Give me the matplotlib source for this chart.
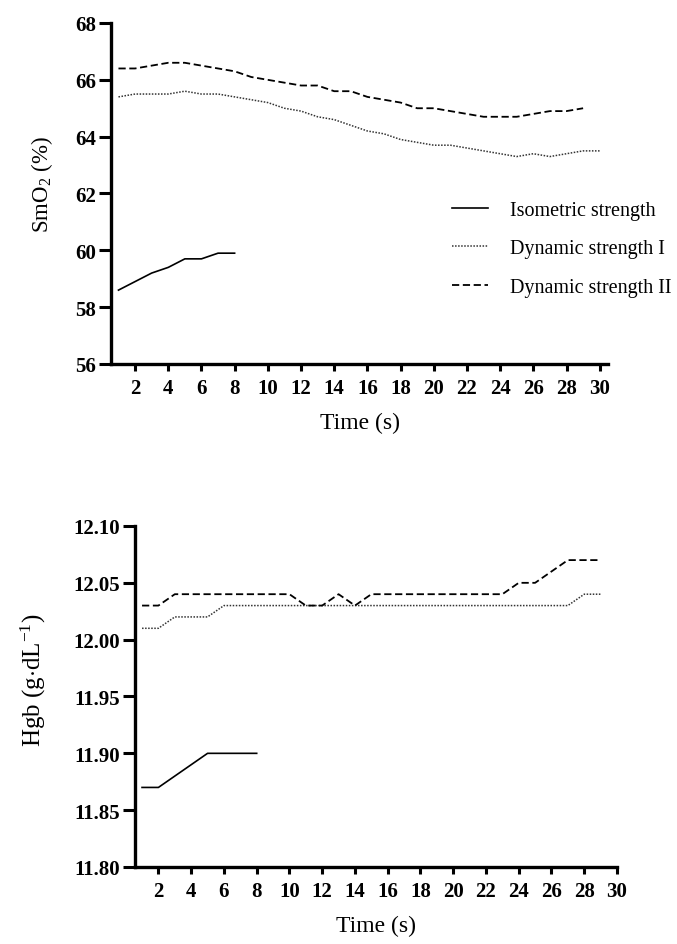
import matplotlib
matplotlib.use('Agg')
import matplotlib.pyplot as plt
import numpy as np

# DATA

time_iso = list(range(1, 9))
time_dyn1 = list(range(1, 31))
time_dyn2 = list(range(1, 30))

smo2_iso = [58.6, 58.9, 59.2, 59.4, 59.7, 59.7, 59.9, 59.9]
smo2_dyn1 = [65.4, 65.5, 65.5, 65.5, 65.6, 65.5, 65.5, 65.4, 65.3, 65.2,
             65.0, 64.9, 64.7, 64.6, 64.4, 64.2, 64.1, 63.9, 63.8, 63.7,
             63.7, 63.6, 63.5, 63.4, 63.3, 63.4, 63.3, 63.4, 63.5, 63.5]
smo2_dyn2 = [66.4, 66.4, 66.5, 66.6, 66.6, 66.5, 66.4, 66.3, 66.1, 66.0,
             65.9, 65.8, 65.8, 65.6, 65.6, 65.4, 65.3, 65.2, 65.0, 65.0,
             64.9, 64.8, 64.7, 64.7, 64.7, 64.8, 64.9, 64.9, 65.0]

time_hgb_iso = list(range(1, 9))
time_hgb_dyn = list(range(1, 30))

hgb_iso = [11.87, 11.87, 11.88, 11.89, 11.90, 11.90, 11.90, 11.90]
hgb_dyn1 = [12.01, 12.01, 12.02, 12.02, 12.02, 12.03, 12.03, 12.03, 12.03, 12.03,
            12.03, 12.03, 12.03, 12.03, 12.03, 12.03, 12.03, 12.03, 12.03, 12.03,
            12.03, 12.03, 12.03, 12.03, 12.03, 12.03, 12.03, 12.04, 12.04]
hgb_dyn2 = [12.03, 12.03, 12.04, 12.04, 12.04, 12.04, 12.04, 12.04, 12.04, 12.04,
            12.03, 12.03, 12.04, 12.03, 12.04, 12.04, 12.04, 12.04, 12.04, 12.04,
            12.04, 12.04, 12.04, 12.05, 12.05, 12.06, 12.07, 12.07, 12.07]

labels = ['Isometric strength', 'Dynamic strength I', 'Dynamic strength II']
x_ticks = list(range(2, 31, 2))

# STYLE

plt.rcParams['font.family'] = ['Liberation Serif', 'DejaVu Serif']
plt.rcParams['mathtext.fontset'] = 'custom'
plt.rcParams['mathtext.rm'] = 'Liberation Serif'
plt.rcParams['mathtext.it'] = 'Liberation Serif:italic'

fig = plt.figure(figsize=(6.77, 9.45), dpi=100)

W, H = 677, 945


def style_axes(ax):
    for side in ['top', 'right']:
        ax.spines[side].set_visible(False)
    for side in ['left', 'bottom']:
        ax.spines[side].set_linewidth(2.4)
    ax.tick_params(axis='y', direction='out', length=8.5, width=2.2,
                   labelsize=15, pad=2)
    ax.tick_params(axis='x', direction='out', length=5, width=2.2,
                   labelsize=15, pad=5)
    for lab in ax.get_xticklabels() + ax.get_yticklabels():
        lab.set_fontweight('bold')


def plot_lines(ax, t1, y1, t2, y2, t3, y3):
    ax.plot(t1, y1, color='black', lw=1.2, linestyle='-', label=labels[0])
    ax.plot(t2, y2, color='#333333', lw=1.1, linestyle=(0, (1, 1)), label=labels[1])
    ax.plot(t3, y3, color='black', lw=1.3, linestyle=(0, (4, 2)), label=labels[2])


# TOP CHART: SmO2

ax1 = fig.add_axes([111 / W, 1 - 365 / H, (608 - 111) / W, (365 - 24) / H])
plot_lines(ax1, time_iso, smo2_iso, time_dyn1, smo2_dyn1, time_dyn2, smo2_dyn2)
ax1.set_xlim(0.55, 30.5)
ax1.set_ylim(56, 68)
ax1.set_xticks(x_ticks)
ax1.set_yticks(np.arange(56, 69, 2))
ax1.set_xlabel('Time (s)', fontsize=17, labelpad=10)
ax1.set_ylabel('SmO$_2$ (%)', fontsize=16.5)
ax1.yaxis.set_label_coords(-0.113, 0.53)
style_axes(ax1)

ax1.legend(loc='upper left', bbox_to_anchor=(452 / W, 1 - 202 / H),
           bbox_transform=fig.transFigure, frameon=False, fontsize=14.5,
           handlelength=1.8, handletextpad=1.1, labelspacing=0.95,
           borderpad=0, borderaxespad=0)

# BOTTOM CHART: Hgb

ax2 = fig.add_axes([135 / W, 1 - 868 / H, (617 - 135) / W, (868 - 527) / H])
plot_lines(ax2, time_hgb_iso, hgb_iso, time_hgb_dyn, hgb_dyn1, time_hgb_dyn, hgb_dyn2)
ax2.set_xlim(0.57, 30)
ax2.set_ylim(11.80, 12.10)
ax2.set_xticks(x_ticks)
ax2.set_yticks(np.arange(11.80, 12.101, 0.05))
ax2.set_yticklabels([f'{v:.2f}' for v in np.arange(11.80, 12.101, 0.05)])
ax2.set_xlabel('Time (s)', fontsize=17, labelpad=10)
ax2.set_ylabel(r'Hgb (g$\cdot$dL$^{-1}$)', fontsize=18)
ax2.yaxis.set_label_coords(-0.18, 0.55)
style_axes(ax2)

plt.savefig('out.png', dpi=100)
plt.close()
